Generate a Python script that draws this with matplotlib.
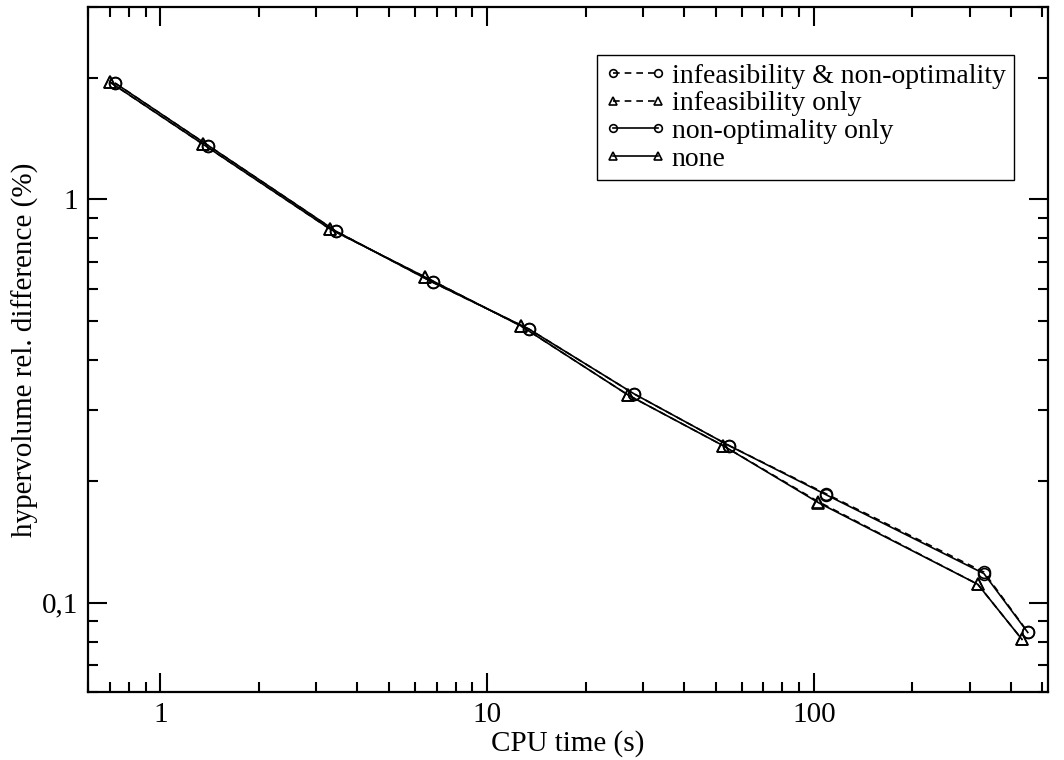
import matplotlib
matplotlib.use("Agg")
import matplotlib.pyplot as plt
from matplotlib.ticker import FixedLocator, FuncFormatter, LogLocator, NullFormatter

# data (log-log)
cpu_circle = [0.728, 1.40, 3.45, 6.8, 13.4, 28.2, 55.0, 109.0, 331.0, 451.0]
cpu_triangle = [0.703, 1.35, 3.31, 6.47, 12.7, 27.0, 52.7, 103.0, 317.0, 433.0]

hv_infeas_nonopt = [1.94, 1.36, 0.833, 0.623, 0.477, 0.329, 0.245, 0.186, 0.119, 0.0845]
hv_infeas_only = [1.95, 1.37, 0.843, 0.641, 0.485, 0.327, 0.245, 0.178, 0.111, 0.081]
hv_nonopt_only = [1.94, 1.36, 0.833, 0.623, 0.477, 0.329, 0.245, 0.185, 0.118, 0.0843]
hv_none = [1.95, 1.37, 0.843, 0.641, 0.485, 0.327, 0.245, 0.177, 0.111, 0.081]

labels = ["infeasibility & non-optimality", "infeasibility only",
          "non-optimality only", "none"]

plt.rcParams['font.family'] = ['Liberation Serif', 'DejaVu Serif']
plt.rcParams['font.size'] = 21

fig = plt.figure(figsize=(10.64, 7.6), dpi=100)
ax = fig.add_axes([88 / 1064, 1 - 692 / 760, 960 / 1064, 685 / 760])

common = dict(color='black', linewidth=1.2, markersize=8.5,
              markerfacecolor='none', markeredgewidth=1.2)
ax.plot(cpu_circle, hv_infeas_nonopt, linestyle=(0, (4, 3)), marker='o',
        label=labels[0], **common)
ax.plot(cpu_triangle, hv_infeas_only, linestyle=(0, (4, 3)), marker='^',
        label=labels[1], **common)
ax.plot(cpu_circle, hv_nonopt_only, linestyle='-', marker='o',
        label=labels[2], **common)
ax.plot(cpu_triangle, hv_none, linestyle='-', marker='^',
        label=labels[3], **common)

ax.set_xscale('log')
ax.set_yscale('log')
ax.set_xlim(0.6, 520)
ax.set_ylim(0.06, 3)

ax.xaxis.set_major_locator(FixedLocator([1, 10, 100]))
ax.xaxis.set_minor_locator(LogLocator(base=10, subs=range(2, 10), numticks=20))
ax.yaxis.set_major_locator(FixedLocator([0.1, 1]))
ax.yaxis.set_minor_locator(LogLocator(base=10, subs=range(2, 10), numticks=20))


def fmt(v, pos):
    return ('%g' % v).replace('.', ',')


ax.xaxis.set_major_formatter(FuncFormatter(fmt))
ax.yaxis.set_major_formatter(FuncFormatter(fmt))
ax.xaxis.set_minor_formatter(NullFormatter())
ax.yaxis.set_minor_formatter(NullFormatter())

ax.tick_params(which='both', direction='in', top=True, right=True,
               width=1.5, labelsize=21)
ax.tick_params(which='major', length=14, pad=7)
ax.tick_params(which='minor', length=7)
for sp in ax.spines.values():
    sp.set_linewidth(1.6)

ax.set_xlabel("CPU time (s)", fontsize=21, labelpad=2)
ax.set_ylabel("hypervolume rel. difference (%)", fontsize=21, labelpad=2)

leg = ax.legend(loc='upper right', bbox_to_anchor=((1014 - 88) / 960, (692 - 55) / 685),
                borderaxespad=0, fancybox=False, framealpha=1, edgecolor='black',
                fontsize=20, numpoints=2, handlelength=2.2, handletextpad=0.2,
                labelspacing=0.08, borderpad=0.3, markerscale=0.65)
leg.get_frame().set_linewidth(1.0)

fig.savefig("out.png", dpi=100)
